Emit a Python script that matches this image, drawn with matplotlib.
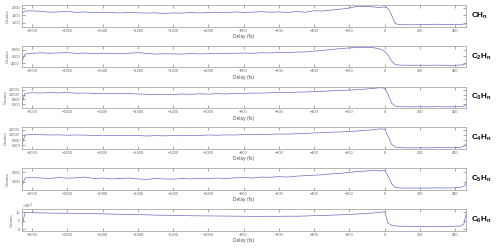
import matplotlib.pyplot as plt

plt.rcParams['font.family'] = ['Liberation Sans', 'DejaVu Sans']
plt.rcParams['mathtext.fontset'] = 'custom'
plt.rcParams['mathtext.rm'] = 'Liberation Sans'
plt.rcParams['mathtext.bf'] = 'Liberation Sans:bold'

# delay axis (fs), shared by all panels
delay = [-2057, -2040, -2000, -1950, -1900, -1850, -1800, -1750, -1700, -1650,
         -1600, -1550, -1500, -1450, -1400, -1350, -1300, -1250, -1200, -1150,
         -1100, -1050, -1000, -950, -900, -850, -800, -750, -700, -650,
         -600, -550, -500, -450, -400, -350, -300, -250, -200, -150,
         -100, -60, -30, 0, 20, 40, 60, 80, 100, 150,
         200, 250, 300, 350, 400, 430, 450, 462]

ch = [1650, 1780, 1790, 1760, 1700, 1720, 1770, 1680, 1720, 1660,
      1700, 1680, 1650, 1700, 1660, 1640, 1660, 1620, 1650, 1640,
      1690, 1650, 1680, 1700, 1660, 1720, 1690, 1700, 1740, 1700,
      1720, 1680, 1750, 1700, 1800, 1780, 1850, 1900, 1980, 2100,
      2080, 2050, 2000, 2060, 1950, 1500, 950, 880, 870, 860,
      880, 890, 900, 870, 900, 880, 910, 920]

c2h = [4600, 6700, 6900, 7100, 6950, 7050, 7150, 6900, 7000, 6850,
       6950, 6900, 6800, 6950, 7150, 6900, 6700, 6800, 6750, 6700,
       6850, 6750, 6800, 6900, 6850, 6950, 7000, 6950, 7100, 7050,
       7150, 7100, 7300, 7350, 7600, 7800, 8100, 8350, 8550, 8700,
       8750, 8600, 8300, 7600, 6300, 4600, 3500, 3400, 3350, 3300,
       3350, 3300, 3350, 3300, 3300, 3400, 3500, 3900]

c3h = [6500, 10500, 10700, 10600, 10750, 10650, 10800, 10500, 10600, 10450,
       10300, 10450, 10300, 10400, 10200, 10100, 9900, 10100, 10000, 10200,
       10100, 10300, 10150, 10350, 10200, 10400, 10450, 10550, 10600, 10700,
       10800, 10750, 10950, 11000, 11200, 11300, 11500, 11650, 11800, 12000,
       12250, 12500, 12750, 12600, 10000, 6500, 5300, 5100, 5050, 5000,
       5050, 5000, 5100, 5000, 5050, 5100, 5300, 5800]

c4h = [6300, 10000, 10200, 10100, 10000, 10050, 9900, 10000, 9950, 9800,
       9900, 9850, 9700, 9900, 9800, 9600, 9750, 9650, 9800, 9700,
       9900, 9800, 10000, 9900, 10050, 10000, 10150, 10100, 10200, 10300,
       10400, 10350, 10500, 10600, 10800, 10950, 11100, 11200, 11400, 11600,
       11900, 12100, 12400, 12300, 9500, 6300, 5200, 5000, 4950, 4900,
       4950, 4900, 5000, 4950, 5000, 5100, 5500, 6500]

c5h = [1550, 2400, 2450, 2400, 2350, 2450, 2380, 2420, 2500, 2350,
       2400, 2300, 2350, 2400, 2300, 2250, 2350, 2300, 2280, 2350,
       2300, 2380, 2320, 2400, 2350, 2420, 2450, 2400, 2500, 2480,
       2550, 2500, 2600, 2650, 2700, 2750, 2850, 2900, 3000, 3100,
       3150, 3250, 3150, 3200, 2600, 1800, 1400, 1350, 1330, 1320,
       1330, 1320, 1350, 1330, 1350, 1400, 1500, 1850]

c6h = [15000, 98000, 97000, 95000, 94000, 93500, 93000, 92000, 91500, 90500,
       89500, 88000, 87000, 86500, 85000, 84000, 82000, 81500, 80000, 79500,
       78500, 78000, 77500, 77000, 76500, 76000, 75500, 75000, 74500, 75500,
       75000, 76000, 75500, 77000, 79000, 80000, 82000, 84000, 86000, 89000,
       92000, 95000, 98000, 102000, 35000, 22000, 19000, 17500, 17000, 16500,
       16000, 16000, 16500, 16500, 17000, 18000, 30000, 90000]

series = [ch, c2h, c3h, c4h, c5h, c6h]
names = [r'$\mathbf{CH_n}$', r'$\mathbf{C_2H_n}$', r'$\mathbf{C_3H_n}$',
         r'$\mathbf{C_4H_n}$', r'$\mathbf{C_5H_n}$', r'$\mathbf{C_6H_n}$']
yticks = [[1000, 1500, 2000], [4000, 6000, 8000], [6000, 8000, 10000, 12000],
          [6000, 8000, 10000, 12000], [2000, 3000], [0, 50000, 100000]]
ylims = [(750, 2180), (2700, 9200), (4500, 13200), (4500, 13000), (1150, 3450), (-8000, 118000)]
xticks = [-2000, -1800, -1600, -1400, -1200, -1000, -800, -600, -400, -200, 0, 200, 400]

fig = plt.figure(figsize=(5, 2.5), dpi=100)
W, H = 500.0, 250.0
for i in range(6):
    top = 5 + 40.8 * i
    ax = fig.add_axes([22 / W, 1 - (top + 21.5) / H, 444 / W, 21.5 / H])
    ax.plot(delay, series[i], color='#6b6bc4', lw=0.5)
    ax.set_xlim(-2057, 462)
    ax.set_ylim(*ylims[i])
    ax.set_xticks(xticks)
    ax.set_yticks(yticks[i])
    if i == 5:
        ax.set_yticklabels(['0', '5', '10'])
        ax.text(0.0, 1.03, r'$\times 10^4$', transform=ax.transAxes, fontsize=3, color='#555555')
    ax.tick_params(direction='in', top=True, right=True, labelsize=2.8, length=2.5,
                   width=0.4, colors='#666666', pad=1.5)
    for sp in ax.spines.values():
        sp.set_color('#999999')
        sp.set_linewidth(0.5)
    ax.set_ylabel('Counts', fontsize=3.2, color='#666666', labelpad=1)
    ax.set_xlabel('Delay (fs)', fontsize=3.5, color='#555555', labelpad=1)
    ax.text(1.011, 0.5, names[i], transform=ax.transAxes, fontsize=5.8, va='center', ha='left')

fig.savefig('out.png', dpi=100)
